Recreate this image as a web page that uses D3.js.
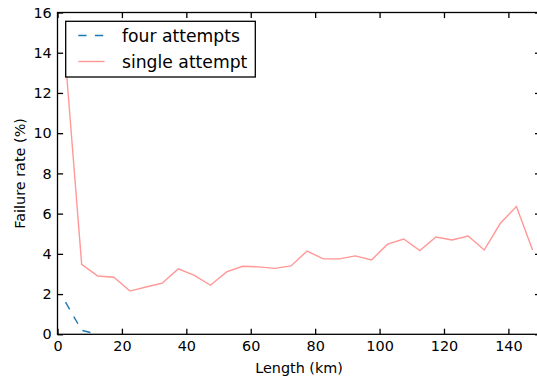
<!DOCTYPE html>
<html>
<head>
<meta charset="utf-8">
<script src="https://cdn.jsdelivr.net/npm/d3@7"></script>
<style>
  body { margin: 0; background: #fff; }
  svg { display: block; font-family: "DejaVu Sans", sans-serif; }
</style>
</head>
<body>
<svg id="chart" width="537" height="379"></svg>
<script>
// bin centres (km)
let lengths = [2.5, 7.5, 12.5, 17.5, 22.5, 27.5, 32.5, 37.5, 42.5, 47.5, 52.5, 57.5, 62.5, 67.5, 72.5,
  77.5, 82.5, 87.5, 92.5, 97.5, 102.5, 107.5, 112.5, 117.5, 122.5, 127.5, 132.5, 137.5, 142.5, 147.5];
let single_attempt = [13.6, 3.48, 2.9, 2.84, 2.15, 2.35, 2.54, 3.25, 2.93, 2.44, 3.1, 3.38, 3.35, 3.28, 3.4,
  4.14, 3.75, 3.75, 3.9, 3.7, 4.48, 4.74, 4.16, 4.84, 4.69, 4.89, 4.19, 5.52, 6.35, 4.19];
let four_attempts = [1.6, 0.2, 0.0];
let x_ticks = [0, 20, 40, 60, 80, 100, 120, 140];
let y_ticks = [0, 2, 4, 6, 8, 10, 12, 14, 16];
let series_names = ['four attempts', 'single attempt'];

let svg = d3.select('#chart');
let left = 57.5, top_ = 12.5, right = 540.6, bottom = 334.3;
let tick_len = 5.6;

let x = d3.scaleLinear().domain([0, 150]).range([left, right]);
let y = d3.scaleLinear().domain([0, 16]).range([bottom, top_]);

svg.append('clipPath').attr('id', 'clip').append('rect')
  .attr('x', left).attr('y', top_).attr('width', right - left).attr('height', bottom - top_);

let line = d3.line().x(d => x(d[0])).y(d => y(d[1]));

let plot = svg.append('g').attr('clip-path', 'url(#clip)');
plot.append('path')
  .datum(lengths.map((l, i) => [l, single_attempt[i]]))
  .attr('d', line).attr('fill', 'none').attr('stroke', '#ff9896').attr('stroke-width', 1.4);
plot.append('path')
  .datum(four_attempts.map((v, i) => [lengths[i], v]))
  .attr('d', line).attr('fill', 'none').attr('stroke', '#1f77b4').attr('stroke-width', 1.4)
  .attr('stroke-dasharray', '8.3,8.3');

// axes (ticks inward, on all four sides)
let fs = 14.4;
let gx = svg.append('g').attr('transform', 'translate(0,' + bottom + ')')
  .call(d3.axisBottom(x).tickValues(x_ticks).tickSizeInner(-tick_len).tickSizeOuter(0).tickPadding(6.3));
let gxt = svg.append('g').attr('transform', 'translate(0,' + top_ + ')')
  .call(d3.axisTop(x).tickValues(x_ticks).tickSizeInner(-tick_len).tickSizeOuter(0).tickFormat(''));
let gy = svg.append('g').attr('transform', 'translate(' + left + ',0)')
  .call(d3.axisLeft(y).tickValues(y_ticks).tickSizeInner(-tick_len).tickSizeOuter(0).tickPadding(5.8));
let gyr = svg.append('g').attr('transform', 'translate(' + right + ',0)')
  .call(d3.axisRight(y).tickValues(y_ticks).tickSizeInner(-tick_len).tickSizeOuter(0).tickFormat(''));

[gx, gxt, gy, gyr].forEach(g => {
  g.select('.domain').remove();
  g.selectAll('line').attr('stroke', '#000').attr('stroke-width', 1.3);
  g.selectAll('text').attr('font-size', fs).attr('fill', '#000').attr('font-family', '"DejaVu Sans", sans-serif');
});

svg.append('rect').attr('x', left).attr('y', top_).attr('width', right - left).attr('height', bottom - top_)
  .attr('fill', 'none').attr('stroke', '#000').attr('stroke-width', 1.3);

// axis labels
svg.append('text').attr('x', (left + right) / 2).attr('y', 373)
  .attr('text-anchor', 'middle').attr('font-size', fs).text('Length (km)');
svg.append('text').attr('transform', 'translate(25,' + (top_ + bottom) / 2 + ') rotate(-90)')
  .attr('text-anchor', 'middle').attr('font-size', fs).text('Failure rate (%)');

// legend
let legend = svg.append('g');
legend.append('rect').attr('x', 65.7).attr('y', 21.3).attr('width', 189.6).attr('height', 55.7)
  .attr('fill', '#fff').attr('stroke', '#000').attr('stroke-width', 1.3);
let styles = [{color: '#1f77b4', dash: '8.3,8.3'}, {color: '#ff9896', dash: null}];
series_names.forEach((name, i) => {
  let cy = 35.5 + i * 26;
  legend.append('line').attr('x1', 78.3).attr('x2', 104.5).attr('y1', cy).attr('y2', cy)
    .attr('stroke', styles[i].color).attr('stroke-width', 1.4).attr('stroke-dasharray', styles[i].dash);
  legend.append('text').attr('x', 122).attr('y', cy).attr('dy', '0.35em')
    .attr('font-size', 17.2).text(name);
});
</script>
</body>
</html>
